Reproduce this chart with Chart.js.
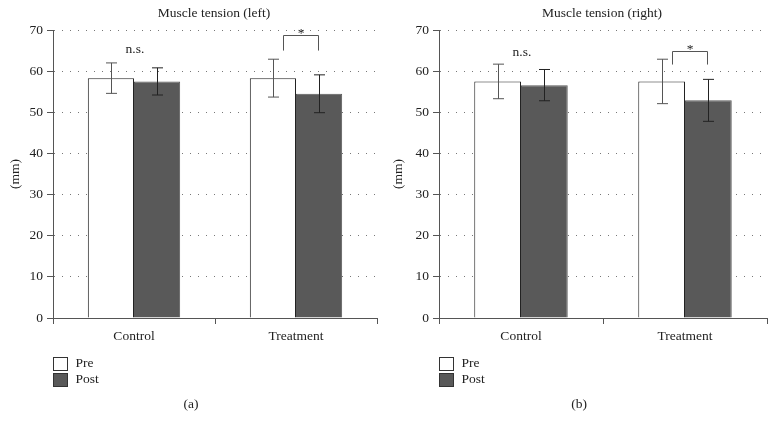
<!DOCTYPE html>
<html>
<head>
<meta charset="utf-8">
<script src="https://cdn.jsdelivr.net/npm/chart.js@4"></script>
<style>
  html, body { margin: 0; padding: 0; background: #fff; }
  .wrap { position: absolute; top: 0; height: 430px; }
</style>
</head>
<body>
<div class="wrap" style="left:0;width:390px"><canvas id="left"></canvas></div>
<div class="wrap" style="left:390px;width:386px"><canvas id="right"></canvas></div>
<script>
const categories = ['Control', 'Treatment'];
const seriesNames = ['Pre', 'Post'];
const yTicks = [0, 10, 20, 30, 40, 50, 60, 70];

const leftPre = [58.3, 58.3];
const leftPost = [57.5, 54.5];
const leftPreErr = [3.7, 4.6];
const leftPostErr = [3.3, 4.6];

const rightPre = [57.5, 57.5];
const rightPost = [56.6, 52.9];
const rightPreErr = [4.2, 5.4];
const rightPostErr = [3.8, 5.1];

// significance marks: [n.s. height, bracket top, bracket legs bottom]
const leftSig = { ns: 65.3, top: 68.7, legs: 65.0 };
const rightSig = { ns: 64.6, top: 65.0, legs: 61.6 };

const SERIF = '"Liberation Serif", "DejaVu Serif", serif';
const TEXT = '#222';
const FS = 13.5;

function makeChart(id, title, caption, pre, post, preErr, postErr, sig, yWidth, padRight, titleX) {
  const canvas = document.getElementById(id);

  const extras = {
    id: 'extras',
    afterDatasetsDraw(chart) {
      const ctx = chart.ctx;
      const ys = chart.scales.y;
      const area = chart.chartArea;
      const errs = [preErr, postErr];
      const errColors = ['#555', '#222'];

      // error bars
      chart.data.datasets.forEach((ds, i) => {
        const meta = chart.getDatasetMeta(i);
        meta.data.forEach((bar, j) => {
          const v = ds.data[j], e = errs[i][j];
          const yTop = ys.getPixelForValue(v + e);
          const yBot = ys.getPixelForValue(v - e);
          const x = Math.round(bar.x) + 0.5;
          ctx.save();
          ctx.strokeStyle = errColors[i];
          ctx.lineWidth = 1;
          ctx.beginPath();
          ctx.moveTo(x, yTop); ctx.lineTo(x, yBot);
          ctx.moveTo(x - 5.5, yTop); ctx.lineTo(x + 5.5, yTop);
          ctx.moveTo(x - 5.5, yBot); ctx.lineTo(x + 5.5, yBot);
          ctx.stroke();
          ctx.restore();
        });
      });

      const preMeta = chart.getDatasetMeta(0);
      const postMeta = chart.getDatasetMeta(1);

      ctx.save();
      ctx.fillStyle = TEXT;
      ctx.font = FS + 'px ' + SERIF;
      ctx.textAlign = 'center';
      ctx.textBaseline = 'middle';

      // n.s. over control
      const c0 = (preMeta.data[0].x + postMeta.data[0].x) / 2;
      ctx.fillText('n.s.', c0 + 1, ys.getPixelForValue(sig.ns));

      // bracket over treatment
      const bx1 = Math.round(preMeta.data[1].x + 10) + 0.5;
      const bx2 = Math.round(postMeta.data[1].x - 1) + 0.5;
      const by = Math.round(ys.getPixelForValue(sig.top)) + 0.5;
      const byl = ys.getPixelForValue(sig.legs);
      ctx.strokeStyle = '#555';
      ctx.lineWidth = 1;
      ctx.beginPath();
      ctx.moveTo(bx1, byl); ctx.lineTo(bx1, by); ctx.lineTo(bx2, by); ctx.lineTo(bx2, byl);
      ctx.stroke();
      ctx.textBaseline = 'alphabetic';
      ctx.fillText('*', (bx1 + bx2) / 2, by + 1);

      // title
      ctx.textBaseline = 'middle';
      ctx.fillText(title, (area.left + area.right) / 2 - 1, 13);

      // y axis title
      ctx.save();
      ctx.translate(titleX, (area.top + area.bottom) / 2);
      ctx.rotate(-Math.PI / 2);
      ctx.fillText('(mm)', 0, 0);
      ctx.restore();

      // legend
      const lx = Math.round(area.left) + 0.5;
      const ly = [357, 373];
      chart.data.datasets.forEach((ds, i) => {
        ctx.fillStyle = ds.backgroundColor;
        ctx.fillRect(lx, ly[i] + 0.5, 14, 13);
        ctx.strokeStyle = '#333';
        ctx.strokeRect(lx, ly[i] + 0.5, 14, 13);
        ctx.fillStyle = TEXT;
        ctx.textAlign = 'left';
        ctx.fillText(ds.label, lx + 22, ly[i] + 6);
      });

      // caption
      ctx.textAlign = 'center';
      ctx.fillText(caption, chart.width / 2 - 4, 404);
      ctx.restore();
    }
  };

  return new Chart(canvas.getContext('2d'), {
    type: 'bar',
    data: {
      labels: categories,
      datasets: [
        {
          label: seriesNames[0],
          data: pre,
          backgroundColor: '#ffffff',
          borderColor: '#222',
          borderWidth: 1,
          categoryPercentage: 0.57,
          barPercentage: 1.0
        },
        {
          label: seriesNames[1],
          data: post,
          backgroundColor: '#595959',
          borderColor: '#595959',
          borderWidth: 1,
          categoryPercentage: 0.57,
          barPercentage: 1.0
        }
      ]
    },
    options: {
      responsive: false,
      animation: false,
      events: [],
      layout: { padding: { top: 30, right: padRight, bottom: 0, left: 0 } },
      plugins: {
        legend: { display: false },
        tooltip: { enabled: false },
        title: { display: false }
      },
      scales: {
        x: {
          afterFit: s => { s.height = 112; },
          border: { display: true, color: '#555', width: 1 },
          grid: { offset: true, drawOnChartArea: false, drawTicks: true, tickLength: 6, color: '#555' },
          ticks: { color: TEXT, font: { family: SERIF, size: FS }, padding: 4 }
        },
        y: {
          min: 0,
          max: 70,
          afterFit: s => { s.width = yWidth; },
          afterBuildTicks: s => { s.ticks = yTicks.map(v => ({ value: v })); },
          border: { display: true, color: '#555', width: 1, dash: [1, 7] },
          grid: {
            color: ctx => ctx.tick && ctx.tick.value === 0 ? 'rgba(0,0,0,0)' : '#777',
            tickColor: '#555',
            tickLength: 6,
            tickBorderDash: []
          },
          ticks: { color: TEXT, font: { family: SERIF, size: FS }, padding: 4 }
        }
      }
    },
    plugins: [extras]
  });
}

(function () {
  const l = document.getElementById('left');
  l.width = 390; l.height = 430;
  const r = document.getElementById('right');
  r.width = 386; r.height = 430;

  makeChart('left', 'Muscle tension (left)', '(a)', leftPre, leftPost, leftPreErr, leftPostErr, leftSig, 53, 13, 15);
  makeChart('right', 'Muscle tension (right)', '(b)', rightPre, rightPost, rightPreErr, rightPostErr, rightSig, 49, 9, 8);
})();
</script>
</body>
</html>
